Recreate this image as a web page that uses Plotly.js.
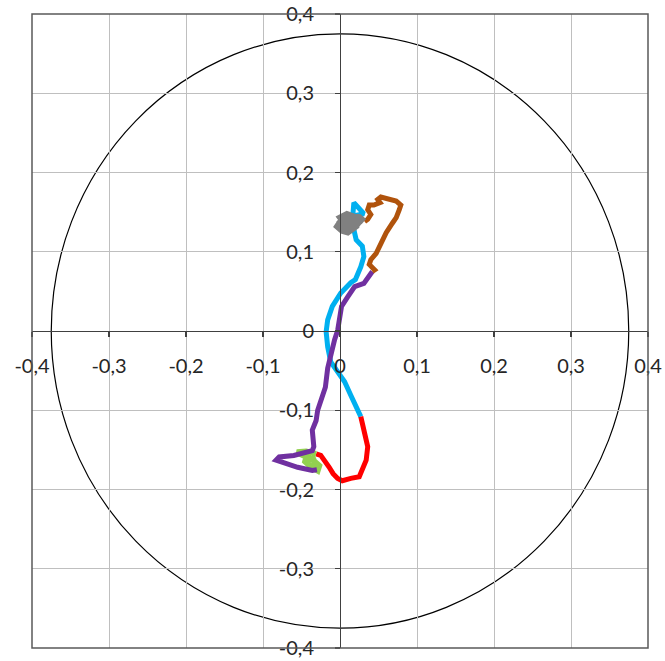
<!DOCTYPE html>
<html>
<head>
<meta charset="utf-8">
<script src="https://cdn.plot.ly/plotly-3.0.1.min.js"></script>
<style>html,body{margin:0;padding:0;background:#fff;}#chart{width:665px;height:661px;}</style>
</head>
<body>
<div id="chart"></div>
<script>
// ---- data ----
const tickValues = [-0.4, -0.3, -0.2, -0.1, 0, 0.1, 0.2, 0.3, 0.4];
const tickLabels = ['-0,4', '-0,3', '-0,2', '-0,1', '0', '0,1', '0,2', '0,3', '0,4'];
const circleRadius = 0.375;

const blueX = [0.016, 0.018, 0.031, 0.021, 0.018, 0.021, 0.029, 0.031, 0.027, 0.020, 0.014, 0.001, -0.010, -0.016, -0.018, -0.016, -0.012, -0.003, 0.006, 0.014, 0.023, 0.027];
const blueY = [0.138, 0.162, 0.148, 0.146, 0.128, 0.115, 0.107, 0.094, 0.081, 0.065, 0.061, 0.048, 0.031, 0.014, -0.001, -0.020, -0.039, -0.052, -0.064, -0.081, -0.098, -0.108];

const redX = [0.027, 0.029, 0.032, 0.036, 0.034, 0.029, 0.025, 0.014, 0.003, -0.003, -0.009, -0.014, -0.020, -0.025, -0.031];
const redY = [-0.108, -0.117, -0.134, -0.146, -0.163, -0.176, -0.184, -0.186, -0.189, -0.186, -0.180, -0.172, -0.163, -0.157, -0.155];

const greenX = [-0.031, -0.044, -0.056, -0.047, -0.035, -0.027, -0.029, -0.038, -0.047, -0.035, -0.030];
const greenY = [-0.155, -0.152, -0.153, -0.157, -0.163, -0.170, -0.176, -0.171, -0.163, -0.161, -0.173];

const purpleX = [-0.030, -0.036, -0.055, -0.072, -0.083, -0.079, -0.060, -0.036, -0.034, -0.036, -0.031, -0.029, -0.023, -0.019, -0.016, -0.010, -0.007, -0.003, -0.001, 0.002, 0.010, 0.019, 0.031, 0.042];
const purpleY = [-0.175, -0.176, -0.172, -0.167, -0.163, -0.159, -0.157, -0.151, -0.146, -0.125, -0.113, -0.100, -0.083, -0.071, -0.047, -0.018, -0.011, 0.001, 0.018, 0.031, 0.043, 0.056, 0.060, 0.075];

const brownX = [0.042, 0.045, 0.038, 0.040, 0.047, 0.053, 0.060, 0.068, 0.073, 0.077, 0.079, 0.073, 0.062, 0.053, 0.049, 0.052, 0.044, 0.038, 0.036, 0.040, 0.036, 0.032];
const brownY = [0.075, 0.077, 0.084, 0.090, 0.098, 0.111, 0.124, 0.136, 0.143, 0.153, 0.159, 0.164, 0.166, 0.169, 0.166, 0.162, 0.159, 0.159, 0.153, 0.147, 0.141, 0.138];

const grayX = [0.031, 0.025, 0.014, 0.007, 0.001, -0.003, 0.003, 0.010, 0.017, 0.007, 0.001, 0.009, 0.017, 0.022, 0.026, 0.020, 0.012, 0.004, -0.002, 0.006, 0.016];
const grayY = [0.138, 0.143, 0.144, 0.141, 0.138, 0.132, 0.127, 0.125, 0.130, 0.135, 0.143, 0.147, 0.144, 0.135, 0.140, 0.137, 0.139, 0.136, 0.140, 0.131, 0.138];

// ---- chart ----
function seg(x, y, color, w) {
  return {x: x, y: y, type: 'scatter', mode: 'lines', hoverinfo: 'skip',
          line: {color: color, width: w, shape: 'linear'}, showlegend: false};
}
const traces = [
  seg(blueX, blueY, '#00b0f0', 5),
  seg(redX, redY, '#ff0000', 5),
  seg(greenX, greenY, '#92d050', 6),
  seg(purpleX, purpleY, '#7030a0', 5),
  seg(brownX, brownY, '#b0530c', 5),
  seg(grayX, grayY, '#808080', 7)
];

const tickFont = {family: 'Lato, "Open Sans", sans-serif', size: 20, color: '#262626'};
const axisCommon = {
  range: [-0.4, 0.4], autorange: false, fixedrange: true,
  tickmode: 'array', tickvals: tickValues, ticktext: tickLabels,
  showgrid: true, gridcolor: '#bfbfbf', gridwidth: 1,
  zeroline: false,
  showline: true, linecolor: '#404040', linewidth: 1.3,
  ticks: 'outside', ticklen: 5, tickcolor: '#404040', tickwidth: 1.3,
  tickfont: tickFont,
  anchor: 'free', position: 0.5
};

const layout = {
  width: 665, height: 661,
  margin: {l: 32, r: 17, t: 14, b: 13, pad: 0},
  paper_bgcolor: '#ffffff', plot_bgcolor: '#ffffff',
  showlegend: false,
  xaxis: Object.assign({}, axisCommon, {ticklabelstandoff: 12}),
  yaxis: Object.assign({}, axisCommon, {ticklabelstandoff: 17}),
  shapes: [
    {type: 'circle', xref: 'x', yref: 'y', x0: -circleRadius, y0: -circleRadius, x1: circleRadius, y1: circleRadius,
     line: {color: '#000000', width: 1.2}, layer: 'below'},
    {type: 'rect', xref: 'paper', yref: 'paper', x0: 0, y0: 0, x1: 1, y1: 1,
     line: {color: '#595959', width: 1.5}, layer: 'above'}
  ]
};

Plotly.newPlot('chart', traces, layout, {staticPlot: true, displayModeBar: false});
</script>
</body>
</html>
